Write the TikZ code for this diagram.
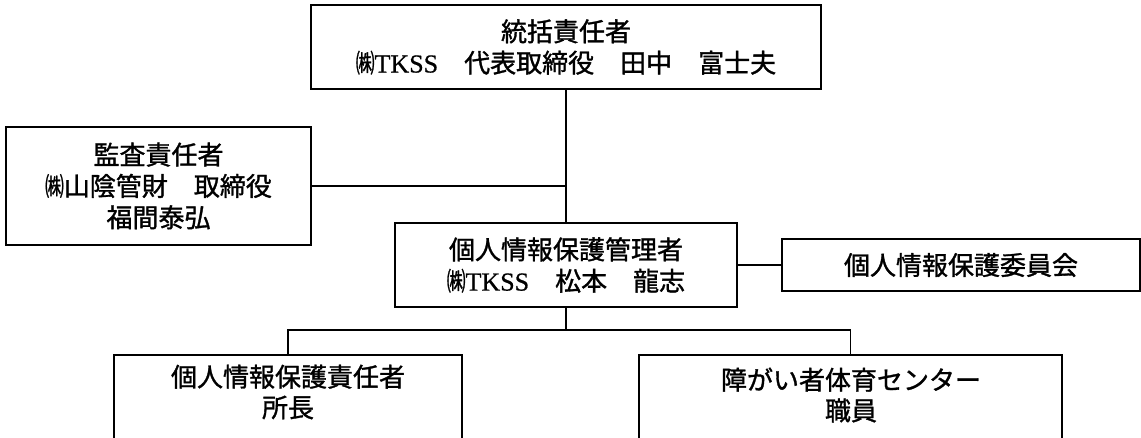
\documentclass[tikz,border=0pt]{standalone}
\usepackage{graphicx}
\usepackage{fontspec}
\setmainfont{Noto Sans CJK JP}[FakeBold=1.2]
\newfontfamily\tmsfont{Liberation Serif}[FakeBold=0.6]
\newcommand\kabu{\scalebox{0.72}[1]{㈱}}
\newcommand\tkss{{\tmsfont TKSS}}
\begin{document}
\begin{tikzpicture}[x=0.75pt,y=-0.75pt,
  box/.style={draw,line width=1.5pt,inner sep=0pt,align=center,
    font=\fontsize{19.5}{23.5}\selectfont},
  txt/.style={inner sep=0pt,align=center,font=\fontsize{19.5}{23}\selectfont},
  conn/.style={line width=1.2pt}]
\clip (0,0) rectangle (1141,437);
\useasboundingbox (0,0) rectangle (1141,437);
\fill[white] (0,0) rectangle (1141,437);

\node[box,minimum width=382.5pt,minimum height=63pt] (top) at (566,47)
  {統括責任者\\\kabu\tkss　代表取締役　田中　富士夫};
\node[box,minimum width=228.75pt,minimum height=88.5pt] (aud) at (158.5,186)
  {監査責任者\\\kabu 山陰管財　取締役\\福間泰弘};
\node[box,minimum width=256.5pt,minimum height=63pt] (mgr) at (566,265)
  {個人情報保護管理者\\\kabu\tkss　松本　龍志};
\node[box,minimum width=268.5pt,minimum height=39pt] (com) at (961,265)
  {個人情報保護委員会};
\node[box,minimum width=261pt,minimum height=82.5pt] (lb) at (288,410) {};
\node[box,minimum width=317.25pt,minimum height=82.5pt] (rb) at (850.5,410) {};
\node[txt] (lbt) at (288,392) {個人情報保護責任者\\所長};
\node[txt] (rbt) at (851,395) {障がい者体育センター\\職員};

\coordinate (br) at (566,330);
\draw[conn] (top.south) -- (mgr.north);
\draw[conn] (aud.east) -- (aud.east -| top.south);
\draw[conn] (mgr.east) -- (com.west);
\draw[conn] (mgr.south) -- (br);
\draw[conn] (lb.north) |- (br) -| (rb.north);
\end{tikzpicture}
\end{document}
